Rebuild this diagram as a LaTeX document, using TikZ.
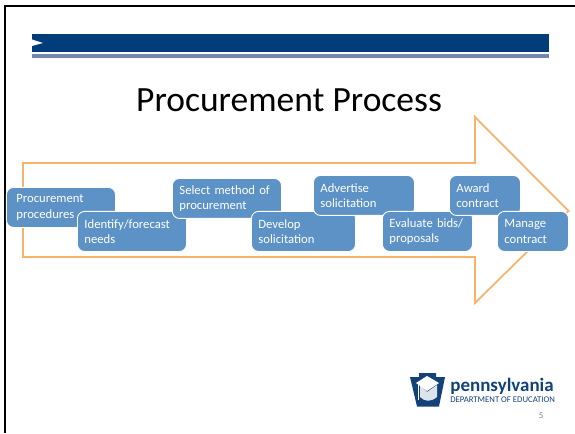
\documentclass[tikz,border=0pt]{standalone}
\usepackage{fontspec}
\setmainfont{Carlito}
\definecolor{barblue}{RGB}{0,61,122}
\definecolor{stripblue}{RGB}{117,133,178}
\definecolor{boxblue}{RGB}{93,146,199}
\definecolor{arroworange}{RGB}{248,178,106}
\definecolor{logoblue}{RGB}{18,66,120}
\tikzset{
  stepbox/.style={draw=white,fill=boxblue,line width=0.5pt,rounded corners=4pt,text=white,anchor=north west,
    align=left,inner xsep=0.14cm,inner ysep=0pt,minimum height=0.8cm,font=\fontsize{7.2pt}{8.6pt}\selectfont},
  arrowline/.style={draw=arroworange,line width=1pt}
}
\begin{document}
\begin{tikzpicture}
  \useasboundingbox (0,0) rectangle (11.5,8.66);
  % slide frame
  \draw[line width=0.04cm] (0.1,0) -- (0.1,8.54) -- (11.5,8.54);
  % header bars
  \fill[barblue] (0.64,7.62) rectangle (10.98,7.98);
  \fill[white] (0.64,7.87) -- (0.86,7.80) -- (0.64,7.74) -- cycle;
  \fill[stripblue] (0.64,7.5) rectangle (10.98,7.58);
  \node[font=\fontsize{20.2pt}{24pt}\selectfont] (title) at (5.78,6.66) {Procurement Process};
  % big arrow
  \draw[arrowline] (0.46,3.52) -- (9.5,3.52) -- (9.5,2.6) -- (11.37,4.44) -- (9.5,6.32) -- (9.5,5.4) -- (0.46,5.4) -- cycle;
  % steps
  \node[stepbox,inner xsep=0.2cm,text width=1.78cm] (procedures) at (0.12,4.92) {Procurement\\procedures};
  \node[stepbox,text width=1.9cm] (identify) at (1.54,4.44) {Identify/forecast\\needs};
  \node[stepbox,text width=1.9cm] (select) at (3.44,5.1) {Select method of\\procurement};
  \node[stepbox,text width=1.8cm] (develop) at (5.02,4.44) {Develop\\solicitation};
  \node[stepbox,text width=1.74cm] (advertise) at (6.26,5.16) {Advertise\\solicitation};
  \node[stepbox,text width=1.52cm] (evaluate) at (7.64,4.44) {Evaluate bids/\\proposals};
  \node[stepbox,text width=1.14cm] (award) at (8.98,5.16) {Award\\contract};
  \node[stepbox,text width=1.14cm] (manage) at (9.94,4.44) {Manage\\contract};
  % logo
  \fill[logoblue] (8.38,1.2) -- (8.72,1.2) -- (8.72,1.12) -- (8.9,1.12) -- (8.78,0.53) -- (8.34,0.53) -- (8.2,1.12) -- (8.38,1.12) -- cycle;
  \fill[white!85!logoblue] (8.4,0.96) -- (8.54,0.82) -- (8.74,0.96) -- (8.74,0.72) .. controls (8.62,0.62) and (8.5,0.62) .. (8.4,0.72) -- cycle;
  \fill[white] (8.32,1.0) -- (8.54,1.14) -- (8.78,1.0) -- (8.54,0.84) -- cycle;
  \draw[white,line width=0.3pt] (8.36,0.96) -- (8.36,0.66);
  \node[text=logoblue,anchor=west,inner sep=0pt,font=\bfseries\fontsize{10.8pt}{12pt}\selectfont] (penn) at (9.0,0.94) {pennsylvania};
  \node[text=logoblue,anchor=west,inner sep=0pt,font=\fontsize{4.95pt}{6pt}\selectfont] (dept) at (9.0,0.66) {DEPARTMENT OF EDUCATION};
  \node[text=gray,inner sep=0pt,font=\fontsize{5pt}{6pt}\selectfont] (pagenum) at (10.82,0.34) {5};
\end{tikzpicture}
\end{document}
